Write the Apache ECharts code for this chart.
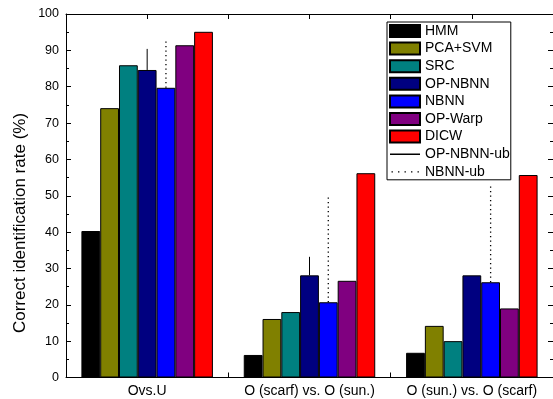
<!DOCTYPE html>
<html>
<head>
<meta charset="utf-8">
<script src="https://cdn.jsdelivr.net/npm/echarts@6/dist/echarts.min.js"></script>
<style>html,body{margin:0;padding:0;background:#fff;}#c{width:553px;height:399px;}</style>
</head>
<body>
<div id="c"></div>
<script>
var categories = ['Ovs.U', 'O (scarf) vs. O (sun.)', 'O (sun.) vs. O (scarf)'];
var yTicks = [0, 10, 20, 30, 40, 50, 60, 70, 80, 90, 100];
var hmm = [40.3, 6.2, 6.8];
var pcaSvm = [74.1, 16.1, 14.2];
var src = [85.9, 18.0, 10.0];
var opNbnn = [84.6, 28.1, 28.1];
var nbnn = [79.7, 20.7, 26.2];
var opWarp = [91.4, 26.6, 19.0];
var dicw = [95.1, 56.2, 55.7];
var opNbnnUb = [90.4, 33.2, 28.1];
var nbnnUb = [92.8, 49.6, 52.7];

var barNames = ['HMM', 'PCA+SVM', 'SRC', 'OP-NBNN', 'NBNN', 'OP-Warp', 'DICW'];
var barData = [hmm, pcaSvm, src, opNbnn, nbnn, opWarp, dicw];
var barColors = ['#000000', '#808000', '#008080', '#000080', '#0000ff', '#800080', '#ff0000'];
var GAP = 0.19;
var font = 'Liberation Sans, Arial, sans-serif';

// legend glyphs for the upper-bound lines (30x12 boxes)
var solidIcon = 'path://M0,0L0.01,0L0.01,0.01Z M0,12L0.01,12L0.01,11.99Z M0,5.3L30,5.3L30,6.8L0,6.8Z';
var dotIcon = 'path://M0,0L0.01,0L0.01,0.01Z M0,12L0.01,12L0.01,11.99Z M30,0L29.99,0L29.99,0.01Z' +
  ' M1.5,5.4h1.4v1.4h-1.4Z M8,5.4h1.4v1.4h-1.4Z M14.5,5.4h1.4v1.4h-1.4Z M21,5.4h1.4v1.4h-1.4Z M27.5,5.4h1.4v1.4h-1.4Z';

var chart = echarts.init(document.getElementById('c'), null, {renderer: 'canvas'});

var series = barNames.map(function (n, i) {
  return {
    name: n, type: 'bar', xAxisIndex: 0, yAxisIndex: 0,
    data: barData[i], barGap: '0%', barCategoryGap: (GAP * 100) + '%',
    itemStyle: {color: barColors[i], borderColor: '#000', borderWidth: 1},
    z: 2
  };
});

function ubSeries(ub, base, barIdx, dash) {
  return {
    type: 'custom', xAxisIndex: 0, yAxisIndex: 0, z: 5, silent: true,
    data: ub.map(function (v, i) { return [i, v, base[i]]; }),
    renderItem: function (params, api) {
      var i = api.value(0);
      var top = api.coord([i, api.value(1)]);
      var bot = api.coord([i, api.value(2)]);
      var catW = api.size([1, 0])[0];
      var bw = catW * (1 - GAP) / 7;
      var x = top[0] + (barIdx - 3) * bw;
      return {
        type: 'line',
        shape: {x1: x, y1: bot[1], x2: x, y2: top[1]},
        style: {stroke: '#000', lineWidth: dash ? 1.3 : 1, lineDash: dash || null}
      };
    }
  };
}
series.push(ubSeries(opNbnnUb, opNbnn, 3, null));
series.push(ubSeries(nbnnUb, nbnn, 4, [1.3, 3.2]));
series.push({name: 'OP-NBNN-ub', type: 'line', data: [], symbol: 'none', lineStyle: {color: '#000', width: 1}, itemStyle: {color: '#000', borderWidth: 0}});
series.push({name: 'NBNN-ub', type: 'line', data: [], symbol: 'none', lineStyle: {color: '#000', width: 1}, itemStyle: {color: '#000', borderWidth: 0}});

var axisLine = {show: true, lineStyle: {color: '#000', width: 1}};
function catAxis(pos, align, labels, line) {
  return {
    type: 'category', data: categories, position: pos,
    axisLine: line ? axisLine : {show: false},
    axisTick: {show: true, inside: true, length: 5, alignWithLabel: align, lineStyle: {color: '#000'}},
    axisLabel: {show: labels, interval: 0, fontSize: 14, color: '#000', fontFamily: font, margin: 7},
    splitLine: {show: false}
  };
}
function valAxis(pos, labels) {
  return {
    type: 'value', min: 0, max: 100, interval: 10, position: pos,
    axisLine: axisLine,
    axisTick: {show: true, inside: true, length: 5, lineStyle: {color: '#000'}},
    minorTick: {show: true, splitNumber: 2, length: 3, lineStyle: {color: '#000'}},
    axisLabel: {show: labels, fontSize: 12.5, color: '#000', fontFamily: font, margin: 7,
      formatter: function (v) { return yTicks.indexOf(v) >= 0 ? String(v) : ''; }},
    splitLine: {show: false}
  };
}

chart.setOption({
  animation: false,
  backgroundColor: '#fff',
  grid: {left: 66, top: 14, right: -2, bottom: 21.5, containLabel: false},
  xAxis: [catAxis('bottom', false, true, true), catAxis('bottom', true, false, false),
          catAxis('top', false, false, true), catAxis('top', true, false, false)],
  yAxis: [valAxis('left', true), valAxis('right', false)],
  graphic: [{
    type: 'text', x: 20, y: 223, rotation: Math.PI / 2,
    style: {text: 'Correct identification rate (%)', fill: '#000',
      font: '17px Liberation Sans, Arial, sans-serif', align: 'center', verticalAlign: 'middle'}
  }],
  legend: {
    orient: 'vertical', left: 387, top: 22,
    itemWidth: 30, itemHeight: 12, itemGap: 3.6,
    padding: [2, 1, 1, 2],
    borderColor: '#000', borderWidth: 1, backgroundColor: '#fff',
    textStyle: {fontSize: 14, color: '#000', fontFamily: font},
    data: barNames.map(function (n) { return {name: n, icon: 'rect'}; }).concat([
      {name: 'OP-NBNN-ub', icon: solidIcon, itemStyle: {color: '#000', borderWidth: 0}},
      {name: 'NBNN-ub', icon: dotIcon, itemStyle: {color: '#000', borderWidth: 0}}])
  },
  series: series
});
</script>
</body>
</html>
